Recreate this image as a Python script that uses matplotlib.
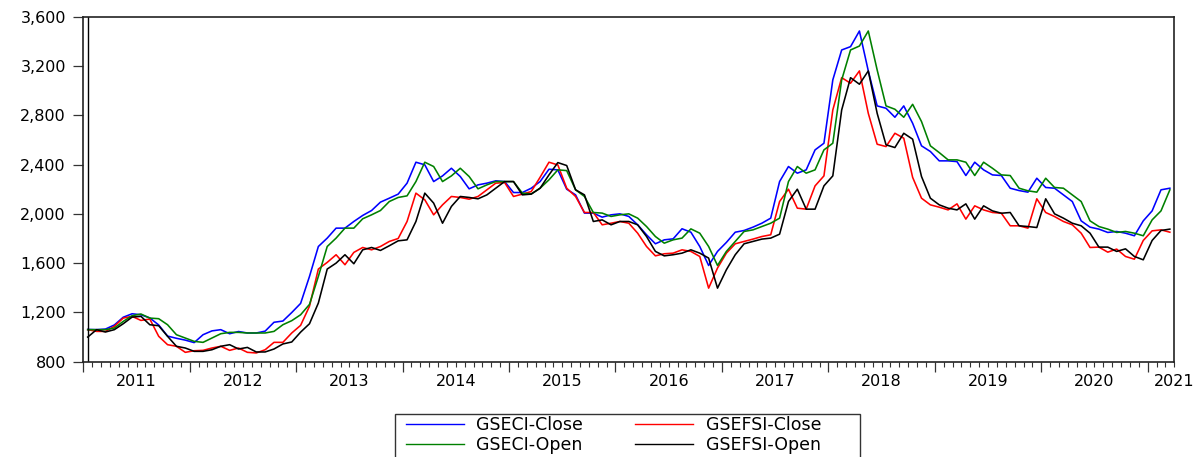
import numpy as np
import matplotlib
matplotlib.use("Agg")
import matplotlib.pyplot as plt
from matplotlib.ticker import FuncFormatter, MultipleLocator
from matplotlib.transforms import blended_transform_factory
from matplotlib.patches import Rectangle

plt.rcParams['font.family'] = ['DejaVu Sans']

years = ["2011", "2012", "2013", "2014", "2015", "2016", "2017", "2018", "2019", "2020", "2021"]
yticks = [800, 1200, 1600, 2000, 2400, 2800, 3200, 3600]

# Monthly observations, Jan 2011 .. Mar 2021
gseci_close = [
    1062, 1060, 1065, 1098, 1161, 1189, 1181, 1155, 1098, 1008, 990, 975,
    955, 1019, 1050, 1060, 1027, 1045, 1033, 1033, 1048, 1120, 1130, 1199,
    1273, 1492, 1735, 1803, 1884, 1884, 1938, 1987, 2027, 2095, 2127, 2160,
    2249, 2419, 2398, 2262, 2308, 2370, 2303, 2203, 2235, 2249, 2268, 2262,
    2173, 2173, 2208, 2262, 2362, 2357, 2200, 2154, 2006, 2006, 1973, 1992,
    2000, 1979, 1911, 1830, 1757, 1789, 1797, 1879, 1851, 1735, 1581, 1695,
    1768, 1851, 1865, 1892, 1924, 1965, 2262, 2384, 2330, 2357, 2519, 2573,
    3087, 3330, 3357, 3484, 3160, 2876, 2857, 2784, 2876, 2735, 2552, 2506,
    2430, 2430, 2424, 2311, 2419, 2357, 2316, 2311, 2208, 2189, 2176, 2289,
    2214, 2208, 2154, 2100, 1943, 1892, 1876, 1849, 1857, 1843, 1822, 1943,
    2024, 2195, 2208]

gsefsi_close = [
    1060, 1046, 1046, 1087, 1154, 1168, 1135, 1146, 1006, 938, 925, 876,
    889, 892, 911, 925, 892, 911, 876, 871, 897, 957, 957, 1033,
    1095, 1250, 1552, 1606, 1668, 1587, 1687, 1727, 1708, 1735, 1776, 1800,
    1938, 2168, 2114, 1992, 2073, 2141, 2133, 2119, 2141, 2195, 2249, 2254,
    2141, 2160, 2181, 2297, 2419, 2397, 2208, 2141, 2011, 2011, 1911, 1924,
    1938, 1924, 1843, 1735, 1659, 1676, 1681, 1708, 1695, 1654, 1397, 1560,
    1681, 1757, 1776, 1795, 1816, 1830, 2100, 2200, 2046, 2038, 2227, 2308,
    2843, 3105, 3060, 3160, 2816, 2565, 2546, 2654, 2614, 2296, 2127, 2073,
    2054, 2032, 2081, 1957, 2065, 2032, 2011, 2005, 1903, 1903, 1884, 2122,
    2011, 1978, 1938, 1911, 1843, 1727, 1730, 1689, 1714, 1654, 1632, 1784,
    1862, 1870, 1851]

gseci_open = [
    1060, 1060, 1060, 1073, 1127, 1173, 1187, 1154, 1149, 1100, 1019, 992,
    965, 957, 992, 1027, 1038, 1038, 1033, 1033, 1033, 1046, 1100, 1133,
    1181, 1265, 1492, 1735, 1803, 1884, 1884, 1960, 1992, 2027, 2100, 2133,
    2146, 2262, 2419, 2384, 2262, 2308, 2370, 2303, 2203, 2235, 2262, 2262,
    2262, 2168, 2162, 2208, 2276, 2357, 2351, 2195, 2141, 2011, 2006, 1979,
    1992, 2000, 1965, 1897, 1816, 1762, 1789, 1803, 1878, 1843, 1735, 1581,
    1695, 1776, 1857, 1870, 1897, 1924, 1965, 2262, 2384, 2330, 2357, 2519,
    2573, 3087, 3330, 3362, 3484, 3168, 2876, 2849, 2784, 2889, 2749, 2552,
    2497, 2438, 2438, 2419, 2311, 2419, 2370, 2316, 2311, 2208, 2187, 2176,
    2289, 2214, 2208, 2154, 2100, 1943, 1897, 1876, 1849, 1857, 1843, 1822,
    1951, 2024, 2195]

gsefsi_open = [
    1000, 1060, 1041, 1060, 1108, 1162, 1168, 1100, 1092, 1006, 925, 911,
    884, 884, 897, 925, 938, 903, 916, 879, 879, 903, 944, 960,
    1040, 1108, 1276, 1552, 1600, 1668, 1595, 1708, 1727, 1703, 1741, 1781,
    1789, 1938, 2168, 2087, 1924, 2060, 2141, 2133, 2122, 2154, 2208, 2262,
    2262, 2154, 2160, 2208, 2316, 2416, 2392, 2195, 2154, 1938, 1951, 1911,
    1938, 1938, 1911, 1816, 1695, 1659, 1668, 1681, 1708, 1681, 1641, 1397,
    1546, 1668, 1757, 1776, 1795, 1803, 1835, 2100, 2200, 2038, 2038, 2227,
    2308, 2843, 3105, 3052, 3160, 2816, 2560, 2538, 2654, 2606, 2303, 2127,
    2073, 2046, 2032, 2081, 1957, 2065, 2024, 2005, 2011, 1903, 1897, 1889,
    2122, 2000, 1965, 1924, 1903, 1843, 1730, 1730, 1695, 1716, 1654, 1627,
    1784, 1865, 1876]

W, H = 1201, 457
n = len(gseci_close)
x = np.arange(n) + 0.5  # mid-month positions; axis units = months since Jan 2011

fig = plt.figure(figsize=(W / 100, H / 100), dpi=100)
ax = fig.add_axes([83.3 / W, 1 - 361.7 / H, (1174.3 - 83.3) / W, (361.7 - 16.7) / H])

lw = 1.15
l1, = ax.plot(x, gseci_close, color='#0000ff', lw=lw, label='GSECI-Close')
l2, = ax.plot(x, gsefsi_close, color='#ff0000', lw=lw, label='GSEFSI-Close')
l3, = ax.plot(x, gseci_open, color='#008000', lw=lw, label='GSECI-Open')
l4, = ax.plot(x, gsefsi_open, color='#000000', lw=lw, label='GSEFSI-Open')

ax.axvline(x[0], color='black', lw=1.0)

ax.set_xlim(0, n)
ax.set_ylim(800, 3600)
ax.set_yticks(yticks)
ax.yaxis.set_major_formatter(FuncFormatter(lambda v, p: f"{int(v):,}"))
fs = 11.5
ax.tick_params(axis='y', direction='out', length=7.5, width=0.9, pad=5, labelsize=fs,
               color='#333333', labelcolor='black')

ax.xaxis.set_major_locator(MultipleLocator(12))
ax.xaxis.set_minor_locator(MultipleLocator(1))
ax.tick_params(axis='x', which='major', direction='out', length=7.5, width=0.9, labelbottom=False,
               color='#333333')
ax.tick_params(axis='x', which='minor', direction='out', length=3.8, width=0.8, color='#333333')

trans = blended_transform_factory(ax.transData, ax.transAxes)
for k, yr in enumerate(years):
    xc = 12 * k + 6 if k < len(years) - 1 else n
    ax.text(xc, -0.035, yr, transform=trans, ha='center', va='top', fontsize=fs)

for s in ax.spines.values():
    s.set_linewidth(1.2)
    s.set_color('#222222')

# legend frame (cut by the bottom edge of the figure, as in the reference)
fig.patches.append(Rectangle((395 / W, -0.05), (860 - 395) / W, (1 - 414 / H) + 0.05,
                             transform=fig.transFigure, fill=False, edgecolor='#333333', lw=1.0))
leg = fig.legend(handles=[l1, l3, l2, l4], ncol=2, loc='upper left',
                 bbox_to_anchor=(406 / W, 1 - 416.5 / H),
                 borderaxespad=0, borderpad=0, fontsize=12.5, frameon=False,
                 handlelength=3.35, handletextpad=0.7, columnspacing=3.0,
                 labelspacing=0.08)
for h in leg.get_lines():
    h.set_linewidth(1.0)

fig.savefig('out.png', dpi=100)
